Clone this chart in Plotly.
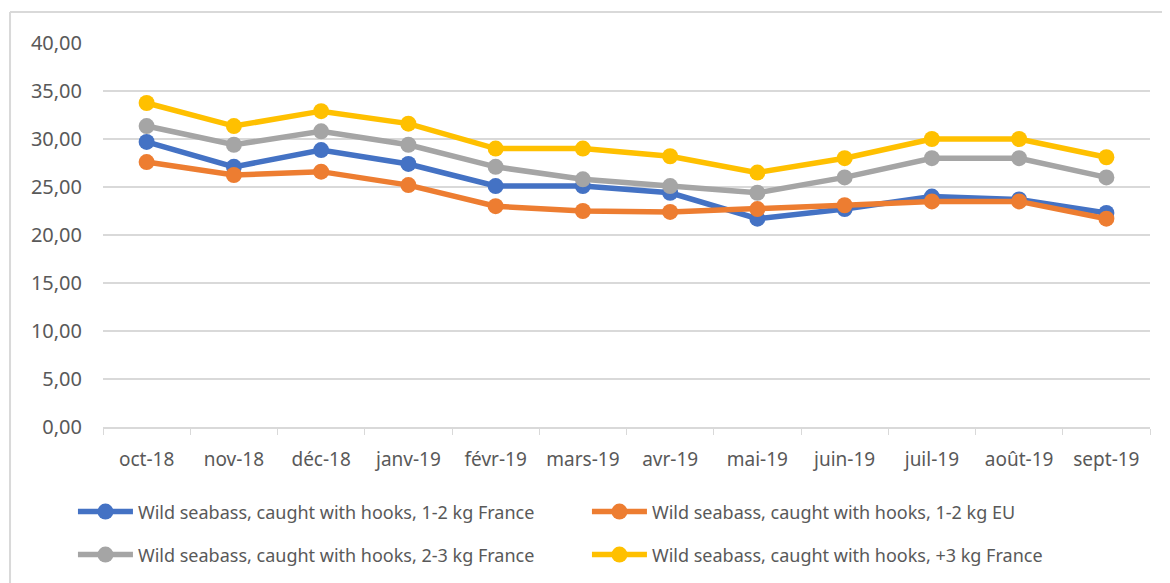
import plotly.graph_objects as go

months = ["oct-18", "nov-18", "déc-18", "janv-19", "févr-19", "mars-19",
          "avr-19", "mai-19", "juin-19", "juil-19", "août-19", "sept-19"]

fr_1_2 = [29.7, 27.1, 28.85, 27.4, 25.1, 25.1, 24.4, 21.7, 22.7, 24.0, 23.7, 22.3]
eu_1_2 = [27.6, 26.25, 26.6, 25.2, 23.0, 22.5, 22.4, 22.7, 23.1, 23.5, 23.5, 21.7]
fr_2_3 = [31.35, 29.4, 30.8, 29.4, 27.1, 25.8, 25.1, 24.4, 26.0, 28.0, 28.0, 26.0]
fr_3p = [33.75, 31.35, 32.9, 31.6, 29.0, 29.0, 28.2, 26.5, 28.0, 30.0, 30.0, 28.1]

names = ["Wild seabass, caught with hooks, 1-2 kg France",
         "Wild seabass, caught with hooks, 1-2 kg EU",
         "Wild seabass, caught with hooks, 2-3 kg France",
         "Wild seabass, caught with hooks, +3 kg France"]
colors = ["#4472C4", "#ED7D31", "#A5A5A5", "#FFC000"]
series = [fr_1_2, eu_1_2, fr_2_3, fr_3p]
legend_ids = ["legend", "legend", "legend2", "legend2"]

fig = go.Figure()
for name, col, vals, lg in zip(names, colors, series, legend_ids):
    fig.add_trace(go.Scatter(
        x=months, y=vals, name=name, mode="lines+markers",
        line=dict(color=col, width=5.5),
        marker=dict(color=col, size=16),
        legend=lg,
    ))

font = "Noto Sans"
leg_common = dict(orientation="h", xanchor="left", yanchor="middle",
                  entrywidth=444, entrywidthmode="pixels",
                  font=dict(family=font, size=18, color="#595959"),
                  itemwidth=55, bgcolor="rgba(0,0,0,0)")
fig.update_layout(
    width=1170, height=583,
    margin=dict(l=95, r=28, t=35, b=164, autoexpand=False),
    paper_bgcolor="white", plot_bgcolor="white",
    separators=",.",
    font=dict(family=font, size=18, color="#595959"),
    showlegend=True,
    legend=dict(x=-0.0287, y=-0.221, **leg_common),
    legend2=dict(x=-0.0287, y=-0.333, **leg_common),
    xaxis=dict(range=[-0.5, 11.5], showgrid=False, showline=True,
               linecolor="#d9d9d9", linewidth=1.5, ticks="outside",
               tickson="boundaries", tickcolor="#d9d9d9", ticklen=6,
               ticklabelstandoff=14,
               tickfont=dict(family=font, size=19, color="#595959")),
    yaxis=dict(range=[0, 40], dtick=5, tickformat=".2f", showgrid=True,
               gridcolor="#d9d9d9", gridwidth=1.5, zeroline=False,
               ticks="", ticklabelstandoff=20,
               tickfont=dict(family=font, size=20, color="#595959")),
    shapes=[
        dict(type="line", xref="paper", yref="paper", x0=-0.0888, x1=1.05,
             y0=1.0807, y1=1.0807, line=dict(color="#d9d9d9", width=2)),
        dict(type="line", xref="paper", yref="paper", x0=-0.0888, x1=-0.0888,
             y0=-0.42, y1=1.0807, line=dict(color="#d9d9d9", width=2)),
    ],
)

fig.write_html("out.html")
